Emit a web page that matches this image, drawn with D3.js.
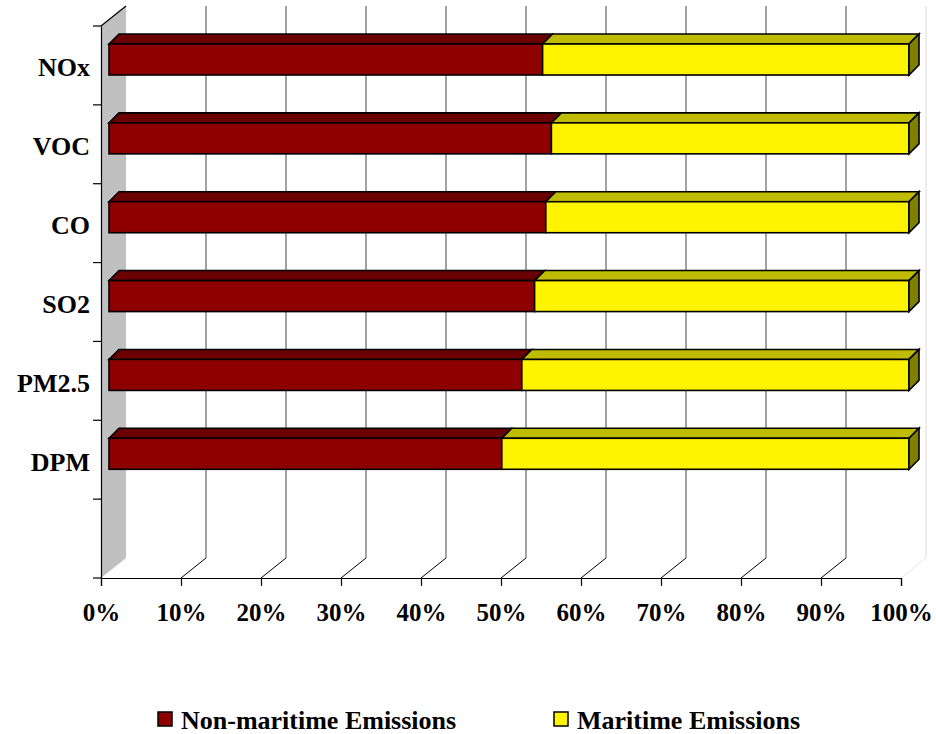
<!DOCTYPE html>
<html>
<head>
<meta charset="utf-8">
<script src="https://cdn.jsdelivr.net/npm/d3@7"></script>
<style>
  html, body { margin: 0; padding: 0; background: #fff; }
  svg { display: block; }
  text { font-family: "Liberation Serif", "Times New Roman", serif; font-weight: bold; fill: #000; }
</style>
</head>
<body>
<svg id="chart" width="936" height="734"></svg>
<script>
// Share of emissions by pollutant (percent)
const categories = ["NOx", "VOC", "CO", "SO2", "PM2.5", "DPM"];
const nonMaritime = [54.2, 55.3, 54.6, 53.2, 51.6, 49.1];
const maritime = [45.8, 44.7, 45.4, 46.8, 48.4, 50.9];
const seriesNames = ["Non-maritime Emissions", "Maritime Emissions"];
const tickValues = [0, 10, 20, 30, 40, 50, 60, 70, 80, 90, 100];

const svg = d3.select("#chart");

// Front plane of the 3D plot box and its depth offset
const x = d3.scaleLinear().domain([0, 100]).range([101, 901]);
const depth = { dx: 25, dy: -20 };
const slots = categories.concat(["__empty"]);
const y = d3.scaleBand().domain(slots).range([26, 578]).paddingInner(0).paddingOuter(0);
const floorY = 578;

// Bars sit slightly inside the box depth
const barShift = 8;
const barDepth = 10;
const barH = 31;
const barTop = 18;

const colors = {
  red:    { front: "#8e0000", top: "#6a0000", side: "#4a0000" },
  yellow: { front: "#fff400", top: "#bfbb00", side: "#808000" }
};

// Left side wall
svg.append("polygon")
  .attr("points", [
    [x(0), y.range()[0]],
    [x(0) + depth.dx, y.range()[0] + depth.dy],
    [x(0) + depth.dx, floorY + depth.dy],
    [x(0), floorY]
  ].map(p => p.join(",")).join(" "))
  .attr("fill", "#c0c0c0");

// Vertical gridlines on the back wall and diagonals on the floor
const grid = svg.append("g");
tickValues.filter(v => v > 0).forEach(v => {
  const c = v === 100 ? "#e4e4e4" : "#707070";
  grid.append("line")
    .attr("x1", x(v) + depth.dx).attr("x2", x(v) + depth.dx)
    .attr("y1", y.range()[0] + depth.dy).attr("y2", floorY + depth.dy)
    .attr("stroke", c).attr("stroke-width", 1.3);
  grid.append("line")
    .attr("x1", x(v)).attr("y1", floorY)
    .attr("x2", x(v) + depth.dx).attr("y2", floorY + depth.dy)
    .attr("stroke", v === 100 ? "#e4e4e4" : "#000").attr("stroke-width", 1);
});

// Left wall outline (top edge)
svg.append("line")
  .attr("x1", x(0)).attr("x2", x(0) + depth.dx)
  .attr("y1", y.range()[0]).attr("y2", y.range()[0] + depth.dy)
  .attr("stroke", "#000").attr("stroke-width", 1.2);

// Stacked 3D bars
const bars = svg.append("g").attr("stroke", "#000").attr("stroke-width", 1.6).attr("stroke-linejoin", "miter");
categories.forEach((cat, i) => {
  const yf = y(cat) + barTop;
  const segs = [
    { from: 0, to: nonMaritime[i], col: colors.red },
    { from: nonMaritime[i], to: nonMaritime[i] + maritime[i], col: colors.yellow }
  ];
  segs.forEach((s, j) => {
    const x0 = x(s.from) + barShift;
    const x1 = x(s.to) + barShift;
    // top face
    bars.append("polygon")
      .attr("points", [[x0, yf], [x0 + barDepth, yf - barDepth], [x1 + barDepth, yf - barDepth], [x1, yf]].map(p => p.join(",")).join(" "))
      .attr("fill", s.col.top);
    // front face
    bars.append("rect")
      .attr("x", x0).attr("y", yf)
      .attr("width", x1 - x0).attr("height", barH)
      .attr("fill", s.col.front);
    // visible end face
    if (j === segs.length - 1) {
      bars.append("polygon")
        .attr("points", [[x1, yf], [x1 + barDepth, yf - barDepth], [x1 + barDepth, yf + barH - barDepth], [x1, yf + barH]].map(p => p.join(",")).join(" "))
        .attr("fill", s.col.side);
    }
  });
});

// Category axis (front edge of the side wall)
const yAxis = d3.axisLeft(y).tickValues([]).tickSizeOuter(0);
const yAxisG = svg.append("g").attr("transform", `translate(${x(0)},0)`).call(yAxis);
yAxisG.select(".domain").attr("stroke", "#000").attr("stroke-width", 1.2);
const yTickPos = slots.map(s => y(s)).concat([floorY]);
yAxisG.selectAll("line.cat-tick").data(yTickPos).join("line")
  .attr("class", "cat-tick")
  .attr("x1", -8).attr("x2", 0)
  .attr("y1", d => d).attr("y2", d => d)
  .attr("stroke", "#000").attr("stroke-width", 1.2);
svg.append("g").selectAll("text").data(categories).join("text")
  .attr("x", 90)
  .attr("y", d => y(d) + y.bandwidth() / 2 + 11)
  .attr("text-anchor", "end")
  .attr("font-size", 26)
  .attr("textLength", d => null)
  .text(d => d);

// Value axis along the floor front edge
const xAxis = d3.axisBottom(x).tickValues(tickValues).tickSize(8).tickPadding(17).tickFormat(d => d + "%");
const xAxisG = svg.append("g").attr("transform", `translate(0,${floorY})`).call(xAxis);
xAxisG.select(".domain").attr("stroke", "#000").attr("stroke-width", 1.2);
xAxisG.selectAll(".tick line").attr("stroke", "#000").attr("stroke-width", 1.2);
xAxisG.selectAll(".tick text")
  .attr("font-family", "'Liberation Serif', 'Times New Roman', serif")
  .attr("font-weight", "bold")
  .attr("font-size", 25)
  .attr("fill", "#000");

// Legend
const legend = svg.append("g");
const legendX = [158, 554];
const legendFill = [colors.red.front, colors.yellow.front];
seriesNames.forEach((name, i) => {
  legend.append("rect")
    .attr("x", legendX[i]).attr("y", 712)
    .attr("width", 14).attr("height", 14)
    .attr("fill", legendFill[i]).attr("stroke", "#000").attr("stroke-width", 1.5);
  legend.append("text")
    .attr("x", legendX[i] + 23).attr("y", 729)
    .attr("font-size", 26)
    .text(name);
});
</script>
</body>
</html>
